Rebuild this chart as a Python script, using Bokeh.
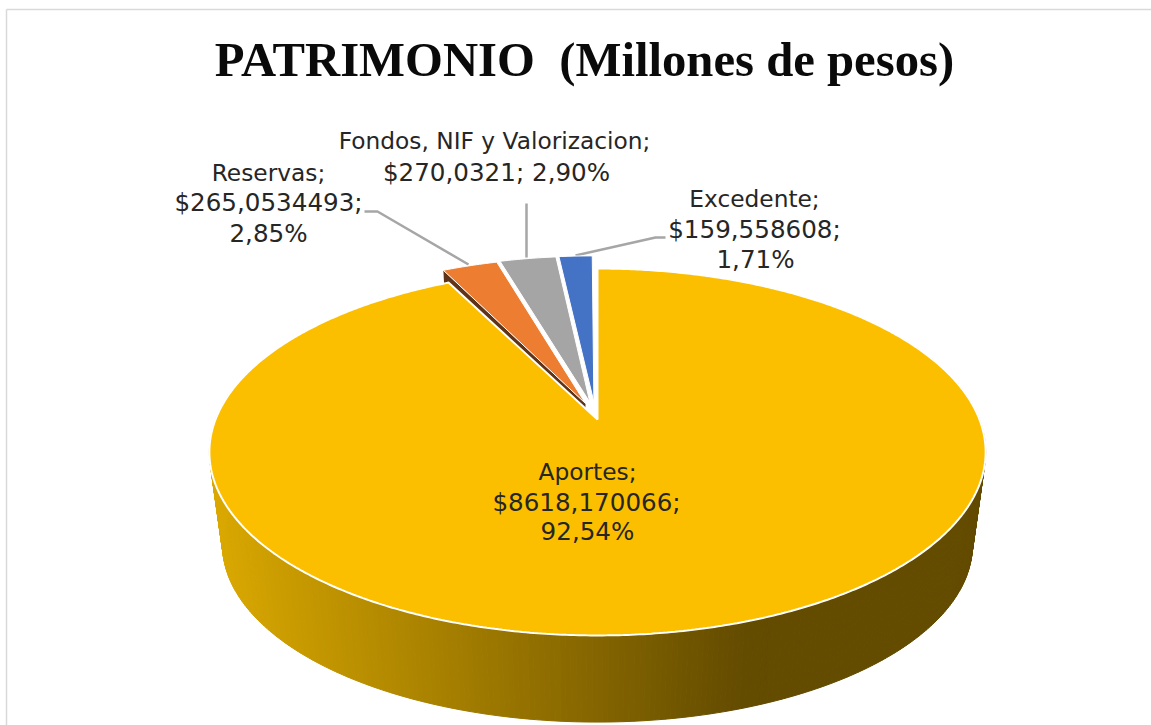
import numpy as np
from bokeh.core.properties import value as bvalue
from bokeh.embed import file_html
from bokeh.models import Range1d
from bokeh.plotting import figure
from bokeh.resources import INLINE

# ---- data ----
categories = ["Aportes", "Reservas", "Fondos, NIF y Valorizacion", "Excedente"]
values = [8618.170066, 265.0534493, 270.0321, 159.558608]
slice_colors = ["#FCBF00", "#ED7D31", "#A5A5A5", "#4472C4"]
title_text = "PATRIMONIO \u00a0(Millones de pesos)"

# ---- layout of the 3D pie (page pixels) ----
W, H = 1151, 725
CX, APEX_Y = 597.0, 419.0
A, B, K = 382.0, 177.7, 0.177      # perspective of the top face
DEPTH_SCALE, DEPTH_Y = 0.966, 94.0 # lower face relative to upper face
EXPLODE, SMALL_R = 0.13, 0.97
SLICE_DX = [0, 4, 0, -3]
APEX_DX, APEX_DY = 2, 5            # the small slices' tips reach a little lower
RESERVAS_SIDE = "#5E3317"
WALL_L, WALL_R = "#DBA900", "#634B00"
WALL_X0, WALL_X1 = 211.0, 745.0

p = figure(width=W + 8, height=H + 8, output_backend="svg", toolbar_location=None,
           x_range=Range1d(-8, W), y_range=Range1d(H, -8), min_border=0,
           outline_line_color=None, background_fill_color="white", border_fill_color="white")
p.margin = (-8, 0, 0, -8)
p.axis.visible = False
p.grid.visible = False


def proj(X, Y, lower=False):
    X, Y = np.asarray(X, float), np.asarray(Y, float)
    d = 1 + K * Y
    sx, sy = A * X / d, B * Y / d
    if lower:
        return CX + DEPTH_SCALE * sx, APEX_Y + DEPTH_Y - DEPTH_SCALE * sy
    return CX + sx, APEX_Y - sy


def wedge(a0, a1, off=(0.0, 0.0), r=1.0):
    t = np.radians(np.linspace(a0, a1, max(int(a1 - a0) * 2, 8)))
    X = np.r_[off[0], off[0] + r * np.sin(t)]
    Y = np.r_[off[1], off[1] + r * np.cos(t)]
    return proj(X, Y)


def mix(c0, c1, f):
    f = min(max(f, 0.0), 1.0)
    a = [int(c0[i:i + 2], 16) for i in (1, 3, 5)]
    b = [int(c1[i:i + 2], 16) for i in (1, 3, 5)]
    return "#%02x%02x%02x" % tuple(round(u + (v - u) * f) for u, v in zip(a, b))


total = sum(values)
pct = [v / total * 100 for v in values]
edges = np.r_[0, np.cumsum(values) / total * 360]
fmt_val = lambda v: "$" + repr(v).replace(".", ",")
fmt_pct = lambda q: f"{q:.2f}".replace(".", ",") + "%"

# frame of the picture
p.segment([6, 6], [9, 9], [W, 6], [9, H], line_color="#D9D9D9", line_width=1.5)

# leader lines
p.line([364, 377, 468], [211, 211, 264], line_color="#A6A6A6", line_width=2.5)
p.line([526, 526], [203, 257], line_color="#A6A6A6", line_width=2.5)
p.line([665, 655, 575], [237, 237, 255], line_color="#A6A6A6", line_width=2.5)

# exploded small slices, drawn back to front
for i in (3, 2, 1):
    a0, a1 = edges[i], edges[i + 1]
    mid = np.radians((a0 + a1) / 2)
    off = (EXPLODE * np.sin(mid), EXPLODE * np.cos(mid))
    if i == 1:
        t0 = np.radians(a0)
        ex, ey = off[0] + SMALL_R * np.sin(t0), off[1] + SMALL_R * np.cos(t0)
        sx0, sy0 = proj([off[0], ex], [off[1], ey])
        bx0, by0 = proj([off[0], ex], [off[1], ey], True)
        sx0[0] += APEX_DX
        sy0[0] += APEX_DY
        p.patch(np.r_[sx0, bx0[::-1]] + SLICE_DX[i], np.r_[sy0, by0[::-1]],
                fill_color=RESERVAS_SIDE, line_color=None)
    x, y = wedge(a0, a1, off, SMALL_R)
    x[0] += APEX_DX
    y[0] += APEX_DY
    p.patch(x + SLICE_DX[i], y, fill_color=slice_colors[i], line_color="white", line_width=1)

# the wall of the main slice, a horizontal gradient made of thin bands
t = np.radians(np.linspace(60, 300, 361))
tx, ty = proj(np.sin(t), np.cos(t))
bx, by = proj(np.sin(t), np.cos(t), True)
xs, ys, cols = [], [], []
for j in range(len(t) - 1):
    xs.append([tx[j], tx[j + 1], bx[j + 1], bx[j]])
    ys.append([ty[j], ty[j + 1], by[j + 1], by[j]])
    c = mix(WALL_L, WALL_R, ((tx[j] + bx[j]) / 2 - WALL_X0) / (WALL_X1 - WALL_X0))
    cols.append(c)
p.patches(xs, ys, fill_color=cols, line_color=cols, line_width=1)

# main slice top
x, y = wedge(edges[0], edges[1])
p.patch(x, y, fill_color=slice_colors[0], line_color="white", line_width=2)

# title
p.text([584], [59], text=[title_text], text_font=bvalue("Liberation Serif"), text_font_size="48.7px",
       text_font_style="bold", text_align="center", text_baseline="middle", text_color="#0a0a0a")

# data labels: names, then the number lines
name_lines = [
    (587, 471, f"{categories[0]};"),
    (268, 172, f"{categories[1]};"),
    (494, 140, f"{categories[2]};"),
    (754, 198, f"{categories[3]};"),
]
number_lines = [
    (586, 502, f"{fmt_val(values[0])};"), (587, 531, fmt_pct(pct[0])),
    (268, 202, f"{fmt_val(values[1])};"), (268, 233, fmt_pct(pct[1])),
    (496, 172, f"{fmt_val(values[2])}; {fmt_pct(pct[2])}"),
    (754, 229, f"{fmt_val(values[3])};"), (755, 259, fmt_pct(pct[3])),
]
for group, size in ((name_lines, "23.3px"), (number_lines, "24.6px")):
    p.text([l[0] for l in group], [l[1] for l in group], text=[l[2] for l in group],
           text_font=bvalue("DejaVu Sans"), text_font_size=size, text_align="center",
           text_baseline="middle", text_color="#262626")

open("out.html", "w").write(file_html(p, INLINE))
